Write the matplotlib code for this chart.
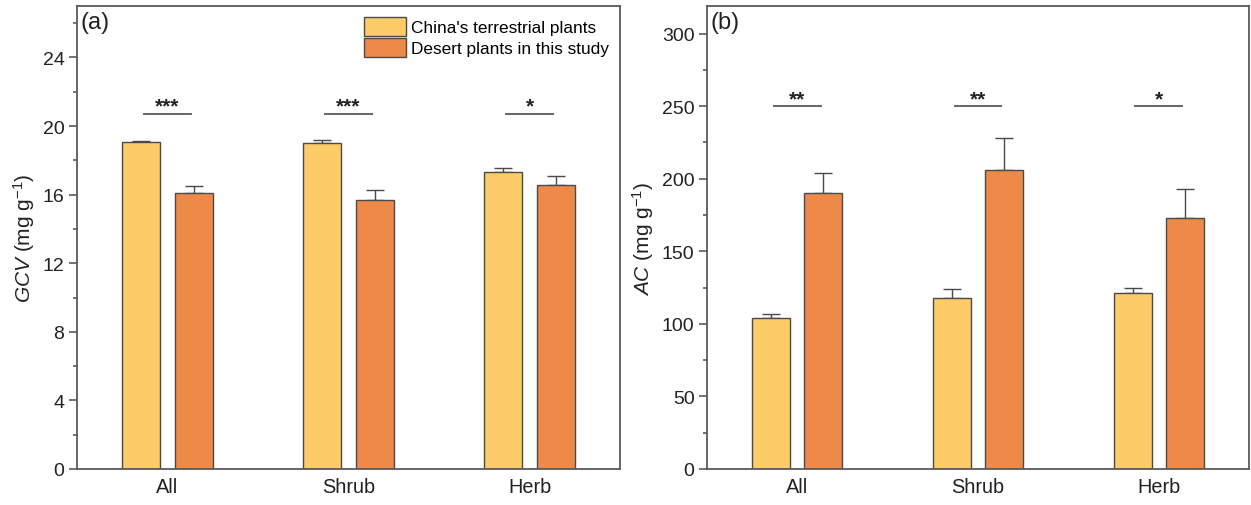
import matplotlib
matplotlib.use("Agg")
import matplotlib.pyplot as plt
import numpy as np

plt.rcParams['font.family'] = ['Liberation Sans', 'DejaVu Sans']
plt.rcParams['mathtext.fontset'] = 'custom'
plt.rcParams['mathtext.rm'] = 'Liberation Sans'
plt.rcParams['mathtext.it'] = 'Liberation Sans:italic'

categories = ["All", "Shrub", "Herb"]
series_names = ["China's terrestrial plants", "Desert plants in this study"]

gcv_china = [19.05, 19.0, 17.3]
gcv_china_err = [0.1, 0.2, 0.25]
gcv_desert = [16.1, 15.7, 16.55]
gcv_desert_err = [0.4, 0.57, 0.52]
gcv_sig = ["***", "***", "*"]
gcv_sig_y = [20.7, 20.7, 20.7]

ac_china = [104, 118, 121]
ac_china_err = [3, 6, 4]
ac_desert = [190, 206, 173]
ac_desert_err = [14, 22, 20]
ac_sig = ["**", "**", "*"]
ac_sig_y = [250, 250, 250]

c_yellow = "#FDCB67"
c_orange = "#EE8A47"
edge = "#4a4a4a"
spine_c = "#5a5a5a"

fig = plt.figure(figsize=(12.51, 5.06), dpi=100)
axa = fig.add_axes([77/1251, 36/506, 543/1251, 463/506])
axb = fig.add_axes([707/1251, 36/506, 542/1251, 463/506])

x = np.arange(len(categories))
w = 0.21
off = 0.144

def draw(ax, ch, che, de, dee, sig, sigy, ylim, major, minor, ylabel, panel, legend):
    ax.bar(x - off, ch, w, color=c_yellow, edgecolor=edge, linewidth=1.0, zorder=2,
           label=series_names[0])
    ax.bar(x + off, de, w, color=c_orange, edgecolor=edge, linewidth=1.0, zorder=2,
           label=series_names[1])
    ax.errorbar(x - off, ch, yerr=[np.zeros(3), che], fmt='none', ecolor=edge,
                elinewidth=1.0, capsize=6.5, capthick=1.0, zorder=1)
    ax.errorbar(x + off, de, yerr=[np.zeros(3), dee], fmt='none', ecolor=edge,
                elinewidth=1.0, capsize=6.5, capthick=1.0, zorder=1)
    for i in range(3):
        ax.plot([x[i] - 0.13, x[i] + 0.13], [sigy[i], sigy[i]], color="#666666", lw=1.4)
        ax.text(x[i], sigy[i] - ylim[1] * 0.004, sig[i], ha='center', va='bottom',
                fontsize=15, fontweight='bold', color="#222222")
    ax.set_xlim(-0.5, 2.5)
    ax.set_ylim(*ylim)
    ax.set_yticks(major)
    ax.set_yticks(minor, minor=True)
    ax.set_xticks(x)
    ax.set_xticklabels(categories, fontsize=14.3, color="#222222")
    ax.tick_params(axis='x', length=0, pad=6)
    ax.tick_params(axis='y', which='major', direction='out', length=6, width=1.2,
                   labelsize=14, colors=spine_c, labelcolor="#222222", pad=3)
    ax.tick_params(axis='y', which='minor', direction='out', length=3, width=1.2, colors=spine_c)
    for s in ax.spines.values():
        s.set_color(spine_c)
        s.set_linewidth(1.3)
    ax.set_ylabel(ylabel, fontsize=15, color="#222222", labelpad=4)
    ax.text(0.006, 0.99, panel, transform=ax.transAxes, ha='left', va='top',
            fontsize=17, color="#222222")
    if legend:
        ax.legend(loc='upper right', frameon=False, fontsize=12.4, handlelength=2.4,
                  handleheight=1.3, handletextpad=0.3, labelspacing=0.12,
                  borderaxespad=0.25, bbox_to_anchor=(1.0, 1.0))

draw(axa, gcv_china, gcv_china_err, gcv_desert, gcv_desert_err, gcv_sig, gcv_sig_y,
     (0, 27), [0, 4, 8, 12, 16, 20, 24], [2, 6, 10, 14, 18, 22, 26],
     r"$\it{GCV}$ (mg g$^{\rm{-1}}$)", "(a)", True)
draw(axb, ac_china, ac_china_err, ac_desert, ac_desert_err, ac_sig, ac_sig_y,
     (0, 319), [0, 50, 100, 150, 200, 250, 300], [25, 75, 125, 175, 225, 275],
     r"$\it{AC}$ (mg g$^{\rm{-1}}$)", "(b)", False)

fig.savefig("out.png", dpi=100)
